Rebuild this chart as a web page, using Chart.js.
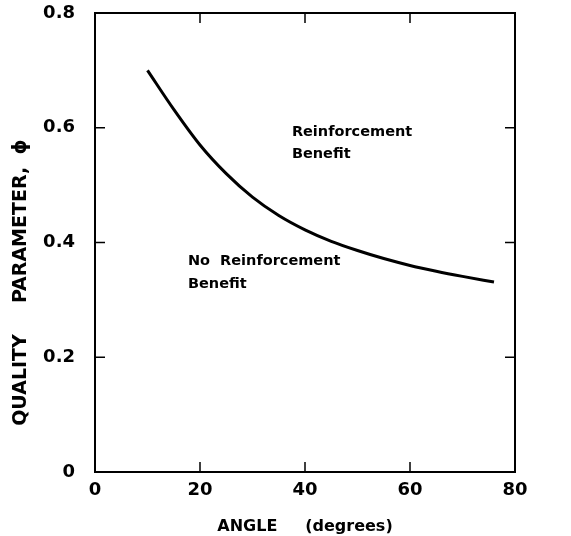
<!DOCTYPE html>
<html>
<head>
<meta charset="utf-8">
<script src="https://cdn.jsdelivr.net/npm/chart.js@4"></script>
<style>
  html, body { margin: 0; padding: 0; background: #fff; }
  #wrap { width: 571px; height: 536px; }
</style>
</head>
<body>
<div id="wrap"><canvas id="grafico"></canvas></div>
<script>
// ================= DADOS =================
const angulos = [10, 15, 20, 25, 30, 35, 40, 45, 50, 55, 60, 65, 70, 76];
const phiValores = [0.70, 0.632, 0.570, 0.520, 0.479, 0.447, 0.422, 0.402, 0.386, 0.372, 0.360, 0.350, 0.341, 0.331];
const xTicks = [0, 20, 40, 60, 80];
const yTicks = [0, 0.2, 0.4, 0.6, 0.8];
const yTickLabels = ['0', '0.2', '0.4', '0.6', '0.8'];

const FONTE = '"DejaVu Sans", "Liberation Sans", sans-serif';

// ================= MOLDURA + TICKS PARA DENTRO + TEXTOS =================
const molduraPlugin = {
  id: 'moldura',
  afterDraw(chart) {
    const { ctx, chartArea: a, scales } = chart;
    const tam = 10;
    ctx.save();
    ctx.strokeStyle = '#000';
    ctx.lineWidth = 2;
    ctx.strokeRect(a.left, a.top, a.right - a.left, a.bottom - a.top);

    ctx.lineWidth = 1.5;
    ctx.beginPath();
    xTicks.forEach(v => {
      const px = scales.x.getPixelForValue(v);
      ctx.moveTo(px, a.bottom); ctx.lineTo(px, a.bottom - tam);
      ctx.moveTo(px, a.top); ctx.lineTo(px, a.top + tam);
    });
    yTicks.forEach(v => {
      const py = scales.y.getPixelForValue(v);
      ctx.moveTo(a.left, py); ctx.lineTo(a.left + tam, py);
      ctx.moveTo(a.right, py); ctx.lineTo(a.right - tam, py);
    });
    ctx.stroke();

    // anotacoes
    ctx.fillStyle = '#000';
    ctx.font = 'bold 14.5px ' + FONTE;
    ctx.textBaseline = 'middle';
    ctx.textAlign = 'left';
    const txt = (s, x, y) => ctx.fillText(s, scales.x.getPixelForValue(x), scales.y.getPixelForValue(y));
    txt('Reinforcement', 37.5, 0.592);
    txt('Benefit', 37.5, 0.554);
    txt('No  Reinforcement', 17.7, 0.367);
    txt('Benefit', 17.7, 0.328);

    // titulo do eixo y (palavras separadas, como no original)
    ctx.font = 'bold 19px ' + FONTE;
    ctx.translate(21, 0);
    ctx.rotate(-Math.PI / 2);
    ctx.textAlign = 'center';
    ctx.fillText('QUALITY', -380, 0);
    ctx.fillText('PARAMETER,', -235, 0);
    ctx.fillText('\u03D5', -147, 0);
    ctx.restore();
  }
};

const ctx = document.getElementById('grafico').getContext('2d');
new Chart(ctx, {
  type: 'scatter',
  data: {
    datasets: [{
      data: angulos.map((a, i) => ({ x: a, y: phiValores[i] })),
      showLine: true,
      borderColor: '#000',
      borderWidth: 3,
      pointRadius: 0,
      cubicInterpolationMode: 'monotone'
    }]
  },
  options: {
    responsive: true,
    maintainAspectRatio: false,
    animation: false,
    layout: { padding: { top: 13, right: 56, left: 0, bottom: 0 } },
    plugins: { legend: { display: false }, tooltip: { enabled: false } },
    scales: {
      x: {
        min: 0, max: 80,
        afterBuildTicks: s => { s.ticks = xTicks.map(v => ({ value: v })); },
        afterFit: s => { s.height = 64; },
        grid: { display: false },
        border: { display: false },
        ticks: { color: '#000', padding: 0, font: { family: FONTE, size: 18, weight: 'bold' } },
        title: {
          display: true,
          text: 'ANGLE     (degrees)',
          color: '#000',
          padding: { top: 2, bottom: 0 },
          font: { family: FONTE, size: 16, weight: 'bold' }
        }
      },
      y: {
        min: 0, max: 0.8,
        afterBuildTicks: s => { s.ticks = yTicks.map(v => ({ value: v })); },
        afterFit: s => { s.width = 95; s.paddingTop = 0; s.paddingBottom = 0; },
        grid: { display: false },
        border: { display: false },
        ticks: {
          color: '#000', padding: 12,
          font: { family: FONTE, size: 18, weight: 'bold' },
          callback: (v, i) => yTickLabels[i]
        }
      }
    }
  },
  plugins: [molduraPlugin]
});
</script>
</body>
</html>
